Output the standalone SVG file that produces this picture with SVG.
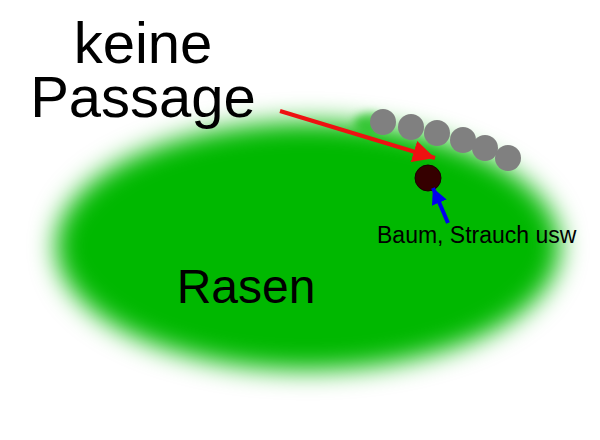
<svg xmlns="http://www.w3.org/2000/svg" width="600" height="440" viewBox="0 0 600 440">
<defs>
<filter id="blur" x="-20%" y="-40%" width="140%" height="180%"><feGaussianBlur stdDeviation="13"/></filter>
<filter id="blur2" x="-100%" y="-100%" width="300%" height="300%"><feGaussianBlur stdDeviation="4"/></filter>
<marker id="redHead" viewBox="0 0 10 10" refX="10" refY="5" markerWidth="5.5" markerHeight="5.5" orient="auto" markerUnits="strokeWidth"><path d="M0,0 L10,5 L0,10 z" fill="#ee1111"/></marker>
<marker id="blueHead" viewBox="0 0 10 10" refX="10" refY="5" markerWidth="4" markerHeight="4" orient="auto" markerUnits="strokeWidth"><path d="M0,0 L10,5 L0,10 z" fill="#0000ee"/></marker>
</defs>
<style>
text{font-family:"Liberation Sans",Arial,sans-serif;fill:#000}
.stone{fill:#808080}
</style>
<rect width="600" height="440" fill="#ffffff"/>
<g id="rasen">
<ellipse cx="308" cy="246" rx="252" ry="124" fill="#06b806" filter="url(#blur)"/>
<ellipse cx="370" cy="123" rx="16" ry="10" fill="#06b806" opacity="0.6" filter="url(#blur2)"/>
<text x="246" y="303" font-size="48" text-anchor="middle">Rasen</text>
</g>
<g id="steine">
<circle class="stone" cx="383" cy="122" r="13"/>
<circle class="stone" cx="411" cy="127" r="13"/>
<circle class="stone" cx="437" cy="133" r="13"/>
<circle class="stone" cx="463" cy="140" r="13"/>
<circle class="stone" cx="485" cy="148" r="13"/>
<circle class="stone" cx="508" cy="158" r="13"/>
</g>
<g id="baum">
<circle cx="428" cy="178" r="13" fill="#350000" stroke="#1a0000" stroke-width="1"/>
</g>
<g id="label-passage">
<text font-size="58" text-anchor="middle"><tspan x="143" y="63">keine</tspan><tspan x="143" y="117">Passage</tspan></text>
</g>
<g id="label-baum">
<text x="377" y="243" font-size="23">Baum, Strauch usw</text>
</g>
<g id="connectors">
<line x1="280" y1="111" x2="435" y2="158" stroke="#ee1111" stroke-width="4" marker-end="url(#redHead)"/>
<line x1="448" y1="223" x2="433" y2="188" stroke="#0000ee" stroke-width="4" marker-end="url(#blueHead)"/>
</g>
</svg>
